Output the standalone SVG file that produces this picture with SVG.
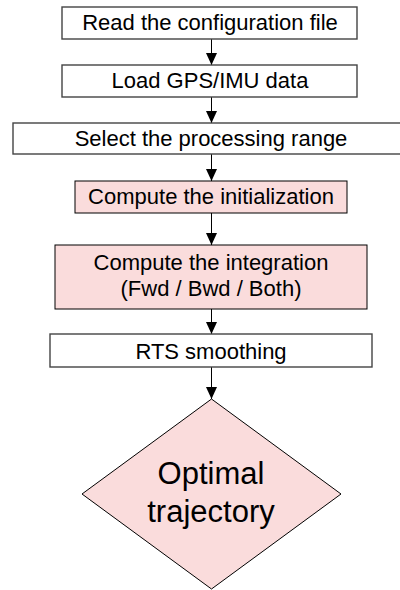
<svg xmlns="http://www.w3.org/2000/svg" width="400" height="590" viewBox="0 0 400 590">
  <style>
    .step { fill: #ffffff; stroke: #444444; stroke-width: 1.4; }
    .core { fill: #fadcdc; stroke: #000000; stroke-width: 1; }
    .label { font-family: "Liberation Sans", Arial, sans-serif; font-size: 22px; fill: #000000; text-anchor: middle; }
    .big { font-size: 31px; }
    .edge { stroke: #000000; stroke-width: 1; fill: none; marker-end: url(#arrow); }
  </style>
  <defs>
    <marker id="arrow" markerWidth="12" markerHeight="11" refX="12" refY="5.5" orient="auto" markerUnits="userSpaceOnUse">
      <path d="M0,0 L12,5.5 L0,11 Z" fill="#000000"/>
    </marker>
  </defs>
  <rect width="400" height="590" fill="#ffffff"/>

  <g id="connectors">
    <line class="edge" x1="211.5" y1="39" x2="211.5" y2="65"/>
    <line class="edge" x1="211.5" y1="97" x2="211.5" y2="123"/>
    <line class="edge" x1="211.5" y1="154" x2="211.5" y2="181"/>
    <line class="edge" x1="211.5" y1="213" x2="211.5" y2="245"/>
    <line class="edge" x1="211.5" y1="309" x2="211.5" y2="334"/>
    <line class="edge" x1="211.5" y1="367" x2="211.5" y2="399"/>
  </g>

  <g id="read-config">
    <rect class="step" x="62" y="7" width="295" height="32"/>
    <text class="label" x="210" y="30">Read the configuration file</text>
  </g>

  <g id="load-data">
    <rect class="step" x="62" y="65" width="295" height="32"/>
    <text class="label" x="210" y="88">Load GPS/IMU data</text>
  </g>

  <g id="select-range">
    <rect class="step" x="13" y="123" width="396" height="31"/>
    <text class="label" x="211" y="146">Select the processing range</text>
  </g>

  <g id="initialization">
    <rect class="core" x="75" y="181" width="272" height="32"/>
    <text class="label" x="211" y="204">Compute the initialization</text>
  </g>

  <g id="integration">
    <rect class="core" x="55" y="245" width="312" height="64"/>
    <text class="label" x="211" y="270">Compute the integration</text>
    <text class="label" x="211" y="296">(Fwd / Bwd / Both)</text>
  </g>

  <g id="rts-smoothing">
    <rect class="step" x="50" y="334" width="322" height="33"/>
    <text class="label" x="211" y="359">RTS smoothing</text>
  </g>

  <g id="optimal-trajectory">
    <polygon class="core" points="211.5,399 341,494 211.5,589 82,494"/>
    <text class="label big" x="211" y="484">Optimal</text>
    <text class="label big" x="211" y="522">trajectory</text>
  </g>
</svg>
